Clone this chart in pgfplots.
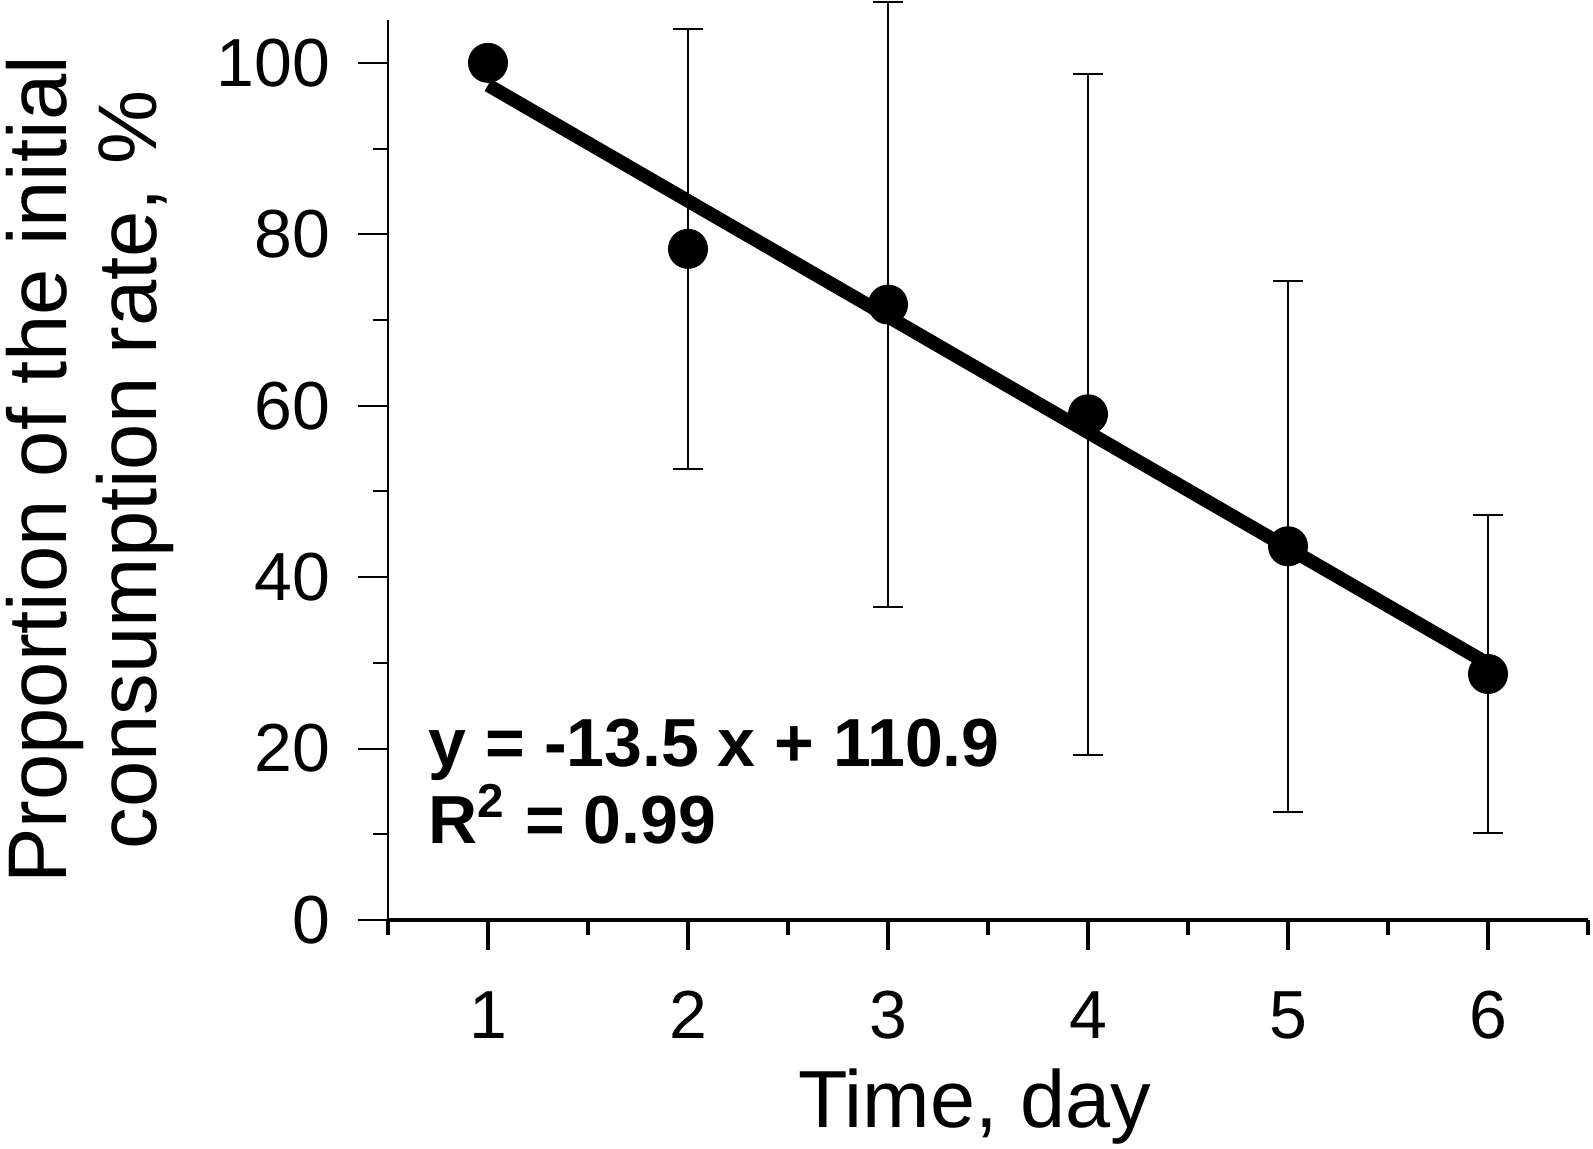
\documentclass[border=0pt]{standalone}
\usepackage{fontspec}
\setmainfont{Liberation Sans}
\usepackage{pgfplots}
\pgfplotsset{compat=1.18}
\usepackage{pgfplotstable}
\pgfplotstableread{
x y e
1 100.0 0
2 78.3 25.7
3 71.8 35.3
4 59.0 39.7
5 43.6 31.0
6 28.7 18.5
}\datatable
\pgfplotstableread{
x y
1 97.4
6 29.9
}\fittable
\begin{document}
\begin{tikzpicture}
\useasboundingbox (-97pt,-57pt) rectangle (301.25pt,230pt);
\begin{axis}[
  scale only axis,
  width=300pt, height=225pt,
  xmin=0.5, xmax=6.5, ymin=0, ymax=105,
  axis lines=left,
  axis line style={-},
  x axis line style={line width=0.9pt},
  y axis line style={line width=0.5pt},
  clip=false,
  tick align=outside,
  xtick={1,2,3,4,5,6},
  minor xtick={0.5,1.5,2.5,3.5,4.5,5.5,6.5},
  ytick={0,20,40,60,80,100},
  minor ytick={10,30,50,70,90},
  major tick length=7.5pt,
  minor tick length=3.75pt,
  xtick style={line width=0.8pt, black},
  ytick style={line width=0.5pt, black},
  /pgf/number format/assume math mode=true,
  ticklabel style={font=\fontsize{17}{20}\selectfont},
  xticklabel style={anchor=base, yshift=-22pt},
  yticklabel style={anchor=east, xshift=-3.5pt},
  xlabel={Time, day},
  ylabel={Proportion of the initial\\consumption rate, \%},
  xlabel style={font=\fontsize{20.25}{22.5}\selectfont, at={(axis description cs:0.489,-0.23)}, anchor=base},
  ylabel style={font=\fontsize{20.8}{22.5}\selectfont, align=center, at={(axis description cs:-0.3192,0.5)}, anchor=north, inner sep=0pt},
]
\addplot[black, line width=3.4pt] table[x=x,y=y] {\fittable};
\addplot[black, only marks, mark=*, mark size=4.8pt,
  error bars/.cd, y dir=both, y explicit,
  error bar style={line width=0.5pt, black},
  error mark options={rotate=90, mark size=3.75pt, line width=0.5pt, black}]
  table[x=x, y=y, y error=e] {\datatable};
\node[anchor=north west, inner sep=0pt, align=left, font=\fontsize{17}{17.5}\selectfont\bfseries] at (axis cs:0.7,23.53) {y = -13.5 x + 110.9\\R\textsuperscript{2} = 0.99};
\end{axis}
\end{tikzpicture}
\end{document}
